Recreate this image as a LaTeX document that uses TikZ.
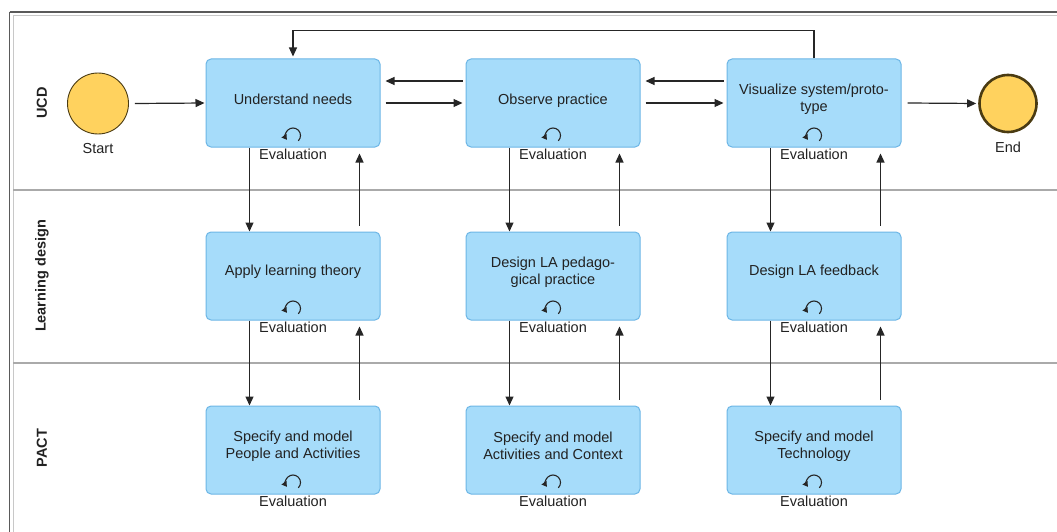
\documentclass[tikz,border=0pt]{standalone}
\usepackage{fontspec}
\setmainfont{Liberation Sans}
\usetikzlibrary{arrows.meta,calc}
\definecolor{boxfill}{HTML}{A6DCFA}
\definecolor{boxline}{HTML}{6DB6E6}
\definecolor{evfill}{HTML}{FFD25E}
\definecolor{evline}{HTML}{4A3B12}
\definecolor{txt}{HTML}{222222}
\definecolor{framedark}{HTML}{5A5A5A}
\definecolor{framelight}{HTML}{C8C8C8}
\definecolor{lanesep}{HTML}{AAAAAA}
\begin{document}
\begin{tikzpicture}[x=1pt,y=-1pt,
  font=\fontsize{14.5}{17}\selectfont, text=txt,
  task/.style={draw=boxline, fill=boxfill, line width=1pt, rounded corners=5pt,
    minimum width=174pt, minimum height=88pt, inner sep=0pt},
  tasktext/.style={yshift=4pt, align=center, inner sep=0pt, text=txt},
  evl/.style={inner sep=0pt, yshift=-1.5pt, text=txt},
  evtlbl/.style={inner sep=0pt, yshift=-8.5pt, text=txt},
  arr/.style={draw=black!85, line width=1.2pt, -{Triangle[length=9pt,width=8pt]}},
  loopa/.style={draw=black!85, line width=1.1pt, -{Triangle[length=5pt,width=6pt]}},
  lane/.style={font=\fontsize{14.5}{17}\selectfont\bfseries, rotate=90, text=txt},
  evstart/.style={circle, draw=evline, fill=evfill, line width=0.9pt, minimum size=61pt, inner sep=0pt},
  evend/.style={circle, draw=evline, fill=evfill, line width=2.6pt, minimum size=57pt, inner sep=0pt}
]
\useasboundingbox (0,0) rectangle (1057,532);
\fill[white] (0,0) rectangle (1057,532);
% frame
\draw[framelight, line width=1pt] (13,15.5) -- (1057,15.5);
\draw[framelight, line width=1pt] (13,15.5) -- (13,532);
\draw[framedark, line width=1.5pt] (9.5,12) -- (1060,12);
\draw[framedark, line width=1.5pt] (9.5,12) -- (9.5,535);
% lane separators
\draw[lanesep, line width=1.5pt] (13,190) -- (1060,190);
\draw[lanesep, line width=1.5pt] (13,363) -- (1060,363);
% lane labels
\node[lane] (l1) at (42,103) {UCD};
\node[lane] (l2) at (42,276) {Learning design};
\node[lane] (l3) at (42,448) {PACT};
% events
\node[evstart, label={[evtlbl]below:Start}] (s) at (98,103.5) {};
\node[evend, label={[evtlbl]below:End}] (e) at (1008,103.5) {};
% tasks
\node[task, label={[tasktext]center:Understand needs}, label={[evl]below:Evaluation}] (u) at (293,103) {};
\node[task, label={[tasktext, yshift=-2pt]center:Observe practice}, label={[evl]below:Evaluation}] (o) at (553,103) {};
\node[task, label={[tasktext]center:Visualize system/proto-\\type}, label={[evl]below:Evaluation}] (v) at (814,103) {};
\node[task, label={[tasktext]center:Apply learning theory}, label={[evl]below:Evaluation}] (la) at (293,276) {};
\node[task, label={[tasktext]center:Design LA pedago-\\gical practice}, label={[evl]below:Evaluation}] (lb) at (553,276) {};
\node[task, label={[tasktext]center:Design LA feedback}, label={[evl]below:Evaluation}] (lc) at (814,276) {};
\node[task, label={[tasktext]center:Specify and model\\People and Activities}, label={[evl]below:Evaluation}] (pa) at (293,450) {};
\node[task, label={[tasktext]center:Specify and model\\Activities and Context}, label={[evl]below:Evaluation}] (pb) at (553,450) {};
\node[task, label={[tasktext]center:Specify and model\\Technology}, label={[evl]below:Evaluation}] (pc) at (814,450) {};
% loop icons
\foreach \n in {u,o,v,la,lb,lc,pa,pb,pc}{
  \coordinate (\n-lp) at ($(\n.south)+(0,-12)$);
  \draw[loopa] ($(\n-lp)+(-45:7.5pt)$) arc[start angle=-45, end angle=215, radius=7.5pt];
}
% horizontal flow
\draw[arr, shorten >=1pt] ($(s.east)+(6,0)$) -- (u.west);
\draw[arr] ($(u.east)+(5,0)$) -- ($(o.west)+(-3,0)$);
\draw[arr] ($(o.west)+(-3,-22)$) -- ($(u.east)+(5,-22)$);
\draw[arr] ($(o.east)+(5,0)$) -- ($(v.west)+(-3,0)$);
\draw[arr] ($(v.west)+(-3,-22)$) -- ($(o.east)+(5,-22)$);
\draw[arr, shorten >=2pt] ($(v.east)+(6,0)$) -- (e.west);
% feedback loop on top
\draw[arr, shorten >=2pt] (v.north) -- ++(0,-28) -| (u.north);
% vertical flows
\foreach \a/\b in {u/la,la/pa,o/lb,lb/pb,v/lc,lc/pc}{
  \draw[arr] ($(\a.south west)+(44,0)$) -- ($(\b.north west)+(44,0)$);
  \draw[arr] ($(\b.north east)+(-21,-6)$) -- ($(\a.south east)+(-21,6)$);
}
\end{tikzpicture}
\end{document}
